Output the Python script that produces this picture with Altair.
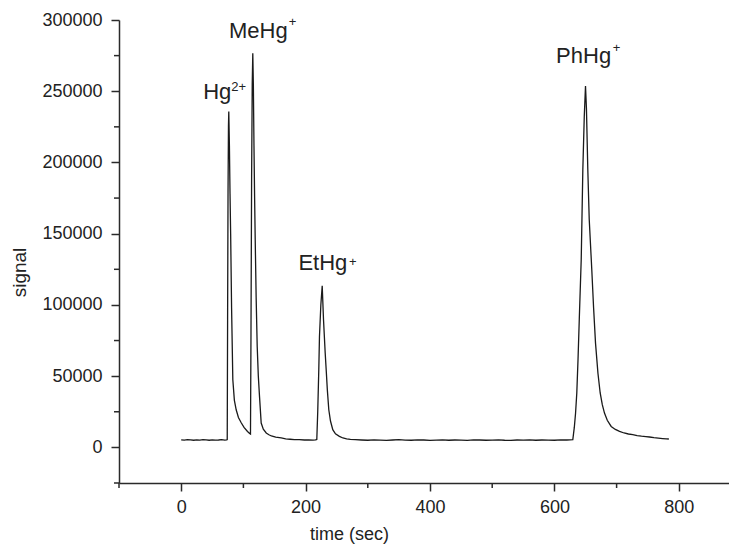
import altair as alt
import pandas as pd

# chromatogram trace
time_sec = [0, 5, 10, 15, 20, 25, 30, 35, 40, 45, 50, 55, 60, 65, 70, 73, 74,
            74.6, 75.3, 76, 76.5, 77.5, 78.5, 79.5, 81, 83, 85.5, 88.4, 92, 96.5,
            101, 106.6, 110, 111.4, 112.2, 113.2, 114.2, 115.1, 116, 117, 118,
            119, 120.5, 122.2, 124, 125.9, 128.6, 132, 136.7, 141, 145, 152,
            160.8, 168, 175, 182, 190, 198, 205, 212, 216, 218, 219.5, 221.2,
            222.3, 224.5, 226.7, 228.8, 231.5, 233.1, 235, 237.3, 240, 243.7,
            248, 254.3, 260, 266, 272, 280,
            290, 300, 310, 320, 330, 340, 350, 360, 370, 380, 390, 400, 410,
            420, 430, 440, 450, 460, 470, 480, 490, 500, 510, 520, 530, 540,
            550, 560, 570, 580, 590, 600, 610, 620,
            625, 629.6, 632, 634, 636, 638, 640, 643.1, 645.7, 648, 650, 651.5,
            653.7, 656, 660.1, 663, 666.1, 670, 673.6, 677, 680.5, 685, 691.3,
            698, 704.7, 712, 719, 726, 733, 740, 747, 752.9, 760, 767, 774,
            780, 784]
signal = [5300, 5100, 5400, 5200, 5000, 5300, 5100, 5400, 5200, 5000, 5300,
          5100, 5200, 5400, 5100, 5200, 5500,
          90000, 180000, 226000, 235700, 212000, 178000, 150000, 98000, 47500,
          33000, 26400, 21000, 17300, 14000, 11200, 9800, 9400, 80000, 190000,
          255000, 276600, 255000, 212000, 176000, 145700, 105000, 70800, 50000,
          35800, 17100, 12800, 10100, 8900, 8000, 7200, 6600, 6000, 5700, 5400,
          5500, 5200, 5300, 5100, 5300, 5600, 25000, 54500, 77900, 100000,
          113400, 89600, 66200, 54500, 40000, 26400, 18500, 12400, 9500, 7700,
          6600, 6000, 5600, 5400,
          5200, 5000, 5300, 5100, 4900, 5200, 5400, 5100, 5000, 5300, 5200,
          4900, 5100, 5300, 5000, 5200, 5100, 4900, 5300, 5200, 5000, 5100,
          5300, 5000, 4900, 5200, 5100, 5300, 5000, 5200, 5100, 5000, 5300,
          5200,
          5300, 5500, 14000, 24000, 38200, 62000, 90000, 131700, 194800,
          232000, 253700, 238000, 195000, 160000, 124700, 98000, 73200, 52000,
          38200, 30000, 24100, 19000, 14700, 12600, 11200, 10100, 9400, 8900,
          8300, 7900, 7600, 7300, 6800, 6500, 6200, 6000, 5900]

# peak labels
label_text = ["Hg", "MeHg", "EtHg", "PhHg"]
label_time = [58, 124, 227.7, 647]
label_signal = [244600, 287600, 124650, 269600]

sup_text = ["2+", "+", "+", "+"]
sup_time = [80.4, 173, 269.8, 694]
sup_signal = [250400, 295800, 127400, 277550]

# axis ticks
x_major = [0, 200, 400, 600, 800]
x_minor = [-100, 100, 300, 500, 700]
y_major = [0, 50000, 100000, 150000, 200000, 250000, 300000]
y_minor = [-25000, 25000, 75000, 125000, 175000, 225000, 275000]

W, H = 610, 463
AX = "#2a2a2a"
TXT = "#222222"
FONT = "Liberation Sans"

trace = pd.DataFrame({"time": time_sec, "signal": signal})
labels = pd.DataFrame({"time": label_time, "signal": label_signal, "text": label_text})
sups = pd.DataFrame({"time": sup_time, "signal": sup_signal, "text": sup_text})
xmin = pd.DataFrame({"time": x_minor})
ymin = pd.DataFrame({"signal": y_minor})

xscale = alt.Scale(domain=[-100, 880.7], nice=False, zero=False)
yscale = alt.Scale(domain=[-25000, 300000], nice=False, zero=False)

x_axis = alt.Axis(
    values=x_major, title="time (sec)", grid=False, tickSize=8,
    tickWidth=1.5, tickColor=AX, domainColor=AX, domainWidth=1.5,
    labelFont=FONT, labelFontSize=18, labelColor=TXT, labelPadding=7,
    titleFont=FONT, titleFontSize=18, titleFontWeight="normal",
    titleColor=TXT, titleX=230, titleY=42, titleAlign="center",
    titleBaseline="top")
y_axis = alt.Axis(
    values=y_major, format="d", title="signal", grid=False, tickSize=8,
    tickWidth=1.5, tickColor=AX, domainColor=AX, domainWidth=1.5,
    labelFont=FONT, labelFontSize=18, labelColor=TXT, labelPadding=9,
    titleFont=FONT, titleFontSize=19, titleFontWeight="normal",
    titleColor=TXT, titleAngle=270, titleX=-100, titleY=252,
    titleAlign="center", titleBaseline="middle")

x_enc = alt.X("time:Q", scale=xscale, axis=x_axis, title="time (sec)")
y_enc = alt.Y("signal:Q", scale=yscale, axis=y_axis, title="signal")

line = alt.Chart(trace).mark_line(color="#1a1a1a", strokeWidth=1.3).encode(
    x=x_enc, y=y_enc)

peak_labels = alt.Chart(labels).mark_text(
    font=FONT, fontSize=22, color=TXT, align="center", baseline="alphabetic"
).encode(x=x_enc, y=y_enc, text="text:N")

sup_labels = alt.Chart(sups).mark_text(
    font=FONT, fontSize=13, color=TXT, align="left", baseline="alphabetic"
).encode(x=x_enc, y=y_enc, text="text:N")

x_minor_ticks = alt.Chart(xmin).mark_rule(color=AX, strokeWidth=1.5).encode(
    x=x_enc, y=alt.value(H), y2=alt.value(H + 5))

y_minor_ticks = alt.Chart(ymin).mark_rule(color=AX, strokeWidth=1.5).encode(
    y=y_enc, x=alt.value(-5), x2=alt.value(0))

chart = alt.layer(
    line, peak_labels, sup_labels, x_minor_ticks, y_minor_ticks
).properties(
    width=W, height=H,
    autosize=alt.AutoSizeParams(type="none"),
    padding={"left": 111, "top": 12, "right": 0, "bottom": 61},
    background="white",
).configure_view(stroke=None)

chart.save("out.html", embed_options={"renderer": "svg", "actions": False})
